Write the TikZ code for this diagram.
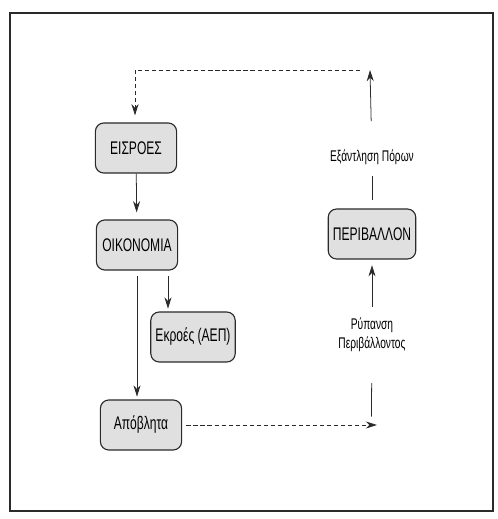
\documentclass[tikz,border=0pt]{standalone}
\usepackage{fontspec}
\setmainfont{Liberation Sans}[FakeStretch=0.66]
\usetikzlibrary{arrows.meta, positioning}
\definecolor{box}{HTML}{E0E0E0}
\definecolor{edge}{HTML}{2A2A2A}
\tikzset{
  n/.style={draw=edge, thick, rounded corners=6pt, fill=box, align=center, font=\fontsize{13}{15}\selectfont, minimum width=2.03cm, minimum height=1.25cm},
  a/.style={-{Stealth[length=8pt, width=5pt]}, draw=edge, semithin},
  semithin/.style={line width=0.55pt},
  ad/.style={a, densely dashed},
  lbl/.style={font=\fontsize{11}{13.5}\selectfont, align=center, inner sep=2pt},
}

\begin{document}
\begin{tikzpicture}[x=0.025cm, y=-0.025cm]
\useasboundingbox (0,0) rectangle (498,519);
\draw[edge, thick] (10,13) rectangle (493,511);

\node[n] (eis) at (136,148) {ΕΙΣΡΟΕΣ};
\node[n] (oik) at (137,245) {ΟΙΚΟΝΟΜΙΑ};
\node[n] (ekr) at (193,337) {Εκροές (ΑΕΠ)};
\node[n] (apo) at (141,425) {Απόβλητα};
\node[n] (per) at (372,234) {ΠΕΡΙΒΑΛΛΟΝ};
\node[lbl] (exa) at (372,157) {Εξάντληση Πόρων};
\node[lbl] (ryp) at (372,335) {Ρύπανση\\Περιβάλλοντος};
\coordinate (tr) at (370,70);
\coordinate (tl) at (135,70);
\coordinate (br) at (377,425);
\coordinate (oke) at (168,0);

\draw[ad, shorten <=7pt, shorten >=5pt] (tr) -- (tl) -- (tl |- eis.north);
\draw[a, shorten >=5pt] (eis) -- (oik);
\draw[a, shorten <=4pt, shorten >=2pt] (oik.south -| oke) -- (ekr.north -| oke);
\draw[a, shorten <=4pt, shorten >=2pt] (oik) -- (apo.north -| oik);
\draw[ad, shorten <=3pt] (apo) -- (br);
\draw[edge, semithin, shorten >=20pt, shorten <=6pt] ([xshift=-4pt]br) -- (ryp);
\draw[a, shorten <=6pt, shorten >=4pt] (ryp) -- (per);
\draw[edge, semithin, shorten <=6pt, shorten >=6pt] (per) -- (exa);
\draw[a, shorten <=18pt] (exa) -- (tr);
\end{tikzpicture}
\end{document}
